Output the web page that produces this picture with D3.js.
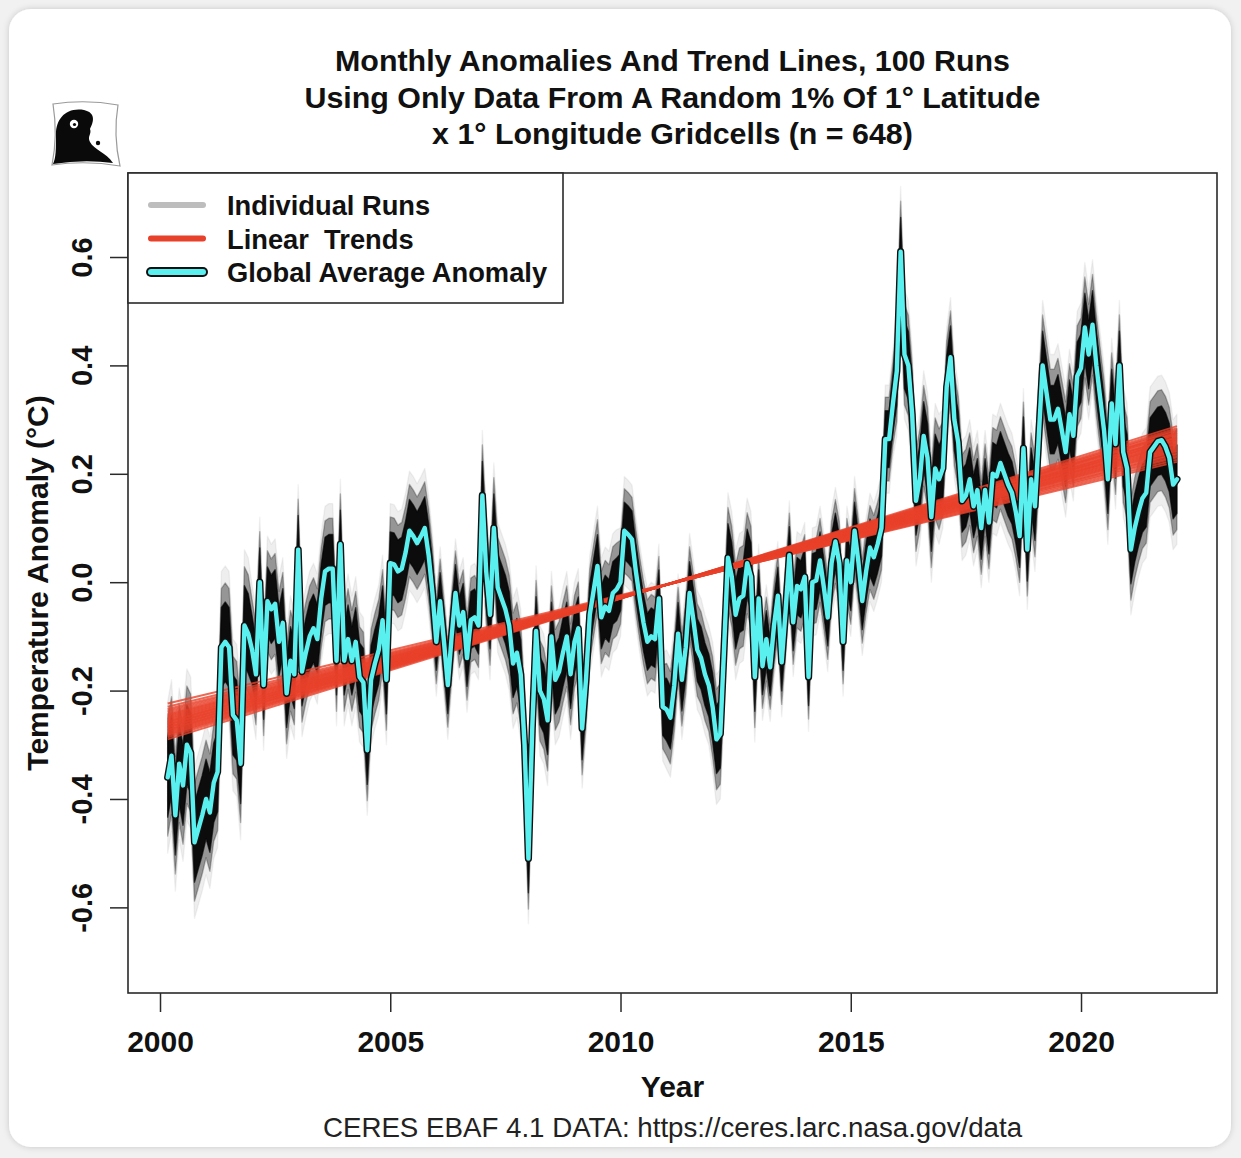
<!DOCTYPE html>
<html>
<head>
<meta charset="utf-8">
<script src="https://cdn.jsdelivr.net/npm/d3@7"></script>
<style>
  html, body { margin: 0; padding: 0; background: #f1f1f1; }
  svg { display: block; }
  text { font-family: "Liberation Sans", Arial, Helvetica, sans-serif; }
</style>
</head>
<body>
<svg id="chart" width="1241" height="1158"></svg>
<script>
// ---- data -------------------------------------------------------------
// monthly global average anomaly (°C), March 2000 .. February 2022
const startYear = 2000;
const startMonth = 3;
const anomaly = [
  // 2000 (Mar-Dec)
  -0.36, -0.32, -0.43, -0.335, -0.375, -0.30, -0.315, -0.48, -0.455, -0.43,
  // 2001
  -0.40, -0.425, -0.37, -0.35, -0.12, -0.11, -0.12, -0.245, -0.255, -0.335, -0.08, -0.095,
  // 2002
  -0.125, -0.17, 0.00, -0.19, -0.035, -0.05, -0.04, -0.11, -0.075, -0.205, -0.145, -0.17,
  // 2003
  0.06, -0.165, -0.13, -0.10, -0.085, -0.105, -0.03, 0.02, 0.025, 0.025, -0.145, 0.07,
  // 2004
  -0.145, -0.105, -0.145, -0.11, -0.175, -0.185, -0.31, -0.18, -0.15, -0.125, -0.07, -0.18,
  // 2005
  0.035, 0.033, 0.02, 0.025, 0.055, 0.095, 0.085, 0.072, 0.085, 0.10, 0.05, -0.02,
  // 2006
  -0.11, -0.035, -0.11, -0.19, -0.10, -0.02, -0.08, -0.055, -0.14, -0.07, -0.065, -0.08,
  // 2007
  0.16, 0.02, -0.06, 0.10, -0.01, -0.03, -0.05, -0.08, -0.15, -0.13, -0.17, -0.30,
  // 2008
  -0.51, -0.27, -0.09, -0.20, -0.215, -0.255, -0.10, -0.18, -0.165, -0.13, -0.10, -0.17,
  // 2009
  -0.11, -0.085, -0.27, -0.18, -0.06, -0.015, 0.03, -0.065, -0.045, -0.053, -0.02, -0.013,
  // 2010
  0.0, 0.095, 0.088, 0.079, 0.02, -0.03, -0.075, -0.11, -0.10, -0.105, -0.03, -0.23,
  // 2011
  -0.235, -0.25, -0.19, -0.095, -0.18, -0.12, -0.02, -0.07, -0.125, -0.14, -0.17, -0.19,
  // 2012
  -0.23, -0.29, -0.28, -0.12, 0.045, 0.01, -0.06, -0.03, -0.025, 0.035, 0.01, -0.175,
  // 2013
  -0.03, -0.155, -0.105, -0.157, -0.08, -0.025, -0.148, -0.055, 0.05, -0.074, -0.007, -0.013,
  // 2014
  0.01, -0.175, 0.0, 0.003, 0.04, -0.01, -0.065, 0.035, 0.075, 0.035, -0.11, 0.04,
  // 2015
  0.0, 0.095, 0.037, -0.035, 0.02, 0.064, 0.046, 0.07, 0.10, 0.264, 0.264, 0.33,
  // 2016
  0.39, 0.61, 0.42, 0.40, 0.31, 0.15, 0.19, 0.27, 0.23, 0.12, 0.21, 0.19,
  // 2017
  0.21, 0.36, 0.415, 0.30, 0.258, 0.15, 0.16, 0.19, 0.14, 0.17, 0.10, 0.17,
  // 2018
  0.11, 0.20, 0.195, 0.22, 0.20, 0.18, 0.165, 0.13, 0.085, 0.247, 0.06, 0.19,
  // 2019
  0.14, 0.27, 0.40, 0.35, 0.30, 0.30, 0.32, 0.28, 0.24, 0.31, 0.27, 0.38,
  // 2020
  0.395, 0.47, 0.42, 0.475, 0.40, 0.34, 0.28, 0.19, 0.33, 0.255, 0.40, 0.24,
  // 2021
  0.21, 0.06, 0.10, 0.13, 0.155, 0.165, 0.24, 0.25, 0.26, 0.262, 0.25, 0.23,
  // 2022 (Jan-Feb)
  0.18, 0.19
];

// half-width (°C) of the spread of the individual runs, by year 2000..2022
const runSpread = [
  0.070, 0.070, 0.060, 0.060, 0.060, 0.055, 0.050, 0.060, 0.060, 0.055, 0.050, 0.055,
  0.060, 0.050, 0.050, 0.050, 0.060, 0.055, 0.055, 0.060, 0.060, 0.060, 0.060
];

// fitted trend of each run: value at the first and at the last month (°C)
const trendStart = [
  -0.290, -0.286, -0.283, -0.281, -0.279, -0.277, -0.275, -0.273, -0.272, -0.270,
  -0.268, -0.267, -0.265, -0.263, -0.262, -0.260, -0.258, -0.257, -0.255, -0.253,
  -0.251, -0.249, -0.247, -0.245, -0.243, -0.240, -0.237, -0.234, -0.230, -0.224
];
const trendEnd = [
  0.288, 0.284, 0.281, 0.279, 0.276, 0.275, 0.273, 0.271, 0.268, 0.267,
  0.265, 0.263, 0.262, 0.260, 0.258, 0.256, 0.255, 0.253, 0.251, 0.249,
  0.247, 0.245, 0.243, 0.241, 0.238, 0.236, 0.233, 0.230, 0.226, 0.222
];

const xTicks = [2000, 2005, 2010, 2015, 2020];
const yTicks = [-0.6, -0.4, -0.2, 0.0, 0.2, 0.4, 0.6];

const titleLines = [
  "Monthly Anomalies And Trend Lines, 100 Runs",
  "Using Only Data From A Random 1% Of 1° Latitude",
  "x 1° Longitude Gridcells (n = 648)"
];
const legendLabels = ["Individual Runs", "Linear  Trends", "Global Average Anomaly"];
const xLabel = "Year";
const yLabel = "Temperature Anomaly (°C)";
const sourceNote = "CERES EBAF 4.1 DATA: https://ceres.larc.nasa.gov/data";

// ---- layout -----------------------------------------------------------
const plot = { left: 128, top: 173, right: 1217, bottom: 993 };
const COLORS = { cyan: "#5af0f0", red: "#e8412b", grey: "#bdbdbd", frame: "#2a2a2a" };

const svg = d3.select("#chart");

// rounded card behind everything
const defs = svg.append("defs");
const shadow = defs.append("filter").attr("id", "cardShadow")
  .attr("x", "-5%").attr("y", "-5%").attr("width", "110%").attr("height", "110%");
shadow.append("feDropShadow").attr("dx", 0).attr("dy", 0)
  .attr("stdDeviation", 3).attr("flood-color", "#000").attr("flood-opacity", 0.18);
svg.append("rect").attr("x", 9).attr("y", 9).attr("width", 1222).attr("height", 1138)
  .attr("rx", 22).attr("fill", "#fff").attr("filter", "url(#cardShadow)");

defs.append("clipPath").attr("id", "plotClip").append("rect")
  .attr("x", plot.left).attr("y", plot.top)
  .attr("width", plot.right - plot.left).attr("height", plot.bottom - plot.top);

// ---- scales -----------------------------------------------------------
const x = d3.scaleLinear().domain([1999.305, 2022.953]).range([plot.left, plot.right]);
const y = d3.scaleLinear().domain([-0.758, 0.755]).range([plot.bottom, plot.top]);

const series = anomaly.map((v, i) => {
  const t = startYear + (startMonth - 1 + i) / 12;
  return { t, v, s: runSpread[Math.floor(t) - startYear] };
});
const tFirst = series[0].t, tLast = series[series.length - 1].t;

const gData = svg.append("g").attr("clip-path", "url(#plotClip)");

// individual runs: spread around the average, dense black core, faint fringe
const runLayers = [
  { k: 2.0, color: "#555", opacity: 0.10 },
  { k: 1.55, color: "#111", opacity: 0.40 },
  { k: 1.05, color: "#000", opacity: 0.92 }
];
runLayers.forEach(layer => {
  const area = d3.area()
    .x(d => x(d.t))
    .y0(d => y(d.v - layer.k * d.s))
    .y1(d => y(d.v + layer.k * d.s));
  gData.append("path").datum(series)
    .attr("d", area)
    .attr("fill", layer.color).attr("fill-opacity", layer.opacity)
    .attr("stroke", layer.color).attr("stroke-opacity", layer.opacity * 0.7)
    .attr("stroke-width", 1.4).attr("stroke-linejoin", "round");
});

// linear trends of the runs
const trendLine = d3.line().x(d => x(d[0])).y(d => y(d[1]));
trendStart.forEach((s0, i) => {
  gData.append("path")
    .datum([[tFirst, s0], [tLast, trendEnd[i]]])
    .attr("d", trendLine)
    .attr("fill", "none").attr("stroke", COLORS.red)
    .attr("stroke-width", 2).attr("stroke-opacity", 0.8);
});

// global average anomaly: cyan line with a dark outline
const avgLine = d3.line().x(d => x(d.t)).y(d => y(d.v));
gData.append("path").datum(series).attr("d", avgLine)
  .attr("fill", "none").attr("stroke", "#111").attr("stroke-width", 7.2)
  .attr("stroke-linejoin", "round").attr("stroke-linecap", "round");
gData.append("path").datum(series).attr("d", avgLine)
  .attr("fill", "none").attr("stroke", COLORS.cyan).attr("stroke-width", 4.4)
  .attr("stroke-linejoin", "round").attr("stroke-linecap", "round");

// ---- axes ---------------------------------------------------------------
const xAxis = d3.axisBottom(x).tickValues(xTicks).tickFormat(d3.format("d"))
  .tickSize(19).tickPadding(19);
const gx = svg.append("g").attr("transform", `translate(0,${plot.bottom})`).call(xAxis);
gx.select(".domain").remove();
gx.selectAll(".tick line").attr("stroke", COLORS.frame).attr("stroke-width", 1.5);
gx.selectAll(".tick text").attr("fill", "#111")
  .style("font-size", "30px").style("font-weight", "bold");

const yAxis = d3.axisLeft(y).tickValues(yTicks).tickFormat(d => d.toFixed(1)).tickSize(18);
const gy = svg.append("g").attr("transform", `translate(${plot.left},0)`).call(yAxis);
gy.select(".domain").remove();
gy.selectAll(".tick line").attr("stroke", COLORS.frame).attr("stroke-width", 1.5);
gy.selectAll(".tick text")
  .attr("x", 0).attr("dy", 0)
  .attr("transform", "translate(-36,0) rotate(-90)")
  .attr("text-anchor", "middle").attr("fill", "#111")
  .style("font-size", "29px").style("font-weight", "bold");

// plot frame
svg.append("rect").attr("x", plot.left).attr("y", plot.top)
  .attr("width", plot.right - plot.left).attr("height", plot.bottom - plot.top)
  .attr("fill", "none").attr("stroke", COLORS.frame).attr("stroke-width", 1.6);

// axis titles and note
svg.append("text").attr("x", (plot.left + plot.right) / 2).attr("y", 1097)
  .attr("text-anchor", "middle").attr("fill", "#111")
  .style("font-size", "30px").style("font-weight", "bold").text(xLabel);
svg.append("text").attr("transform", `translate(48,${(plot.top + plot.bottom) / 2}) rotate(-90)`)
  .attr("text-anchor", "middle").attr("fill", "#111")
  .style("font-size", "30px").style("font-weight", "bold").text(yLabel);
svg.append("text").attr("x", (plot.left + plot.right) / 2).attr("y", 1137)
  .attr("text-anchor", "middle").attr("fill", "#222")
  .style("font-size", "27.7px").text(sourceNote);

// title
svg.append("g").selectAll("text").data(titleLines).join("text")
  .attr("x", (plot.left + plot.right) / 2)
  .attr("y", (d, i) => 71 + i * 36.5)
  .attr("text-anchor", "middle").attr("fill", "#111")
  .style("font-size", "30.4px").style("font-weight", "bold")
  .text(d => d);

// ---- legend ----------------------------------------------------------------
const lg = svg.append("g");
lg.append("rect").attr("x", plot.left).attr("y", plot.top)
  .attr("width", 435).attr("height", 130)
  .attr("fill", "#fff").attr("stroke", COLORS.frame).attr("stroke-width", 1.6);
const rowY = [205, 238.5, 272];
const sx0 = 151, sx1 = 203;
lg.append("line").attr("x1", sx0).attr("x2", sx1).attr("y1", rowY[0]).attr("y2", rowY[0])
  .attr("stroke", COLORS.grey).attr("stroke-width", 6).attr("stroke-linecap", "round");
lg.append("line").attr("x1", sx0).attr("x2", sx1).attr("y1", rowY[1]).attr("y2", rowY[1])
  .attr("stroke", COLORS.red).attr("stroke-width", 6).attr("stroke-linecap", "round");
lg.append("line").attr("x1", sx0).attr("x2", sx1).attr("y1", rowY[2]).attr("y2", rowY[2])
  .attr("stroke", "#111").attr("stroke-width", 10).attr("stroke-linecap", "round");
lg.append("line").attr("x1", sx0).attr("x2", sx1).attr("y1", rowY[2]).attr("y2", rowY[2])
  .attr("stroke", COLORS.cyan).attr("stroke-width", 6).attr("stroke-linecap", "round");
lg.selectAll("text.lab").data(legendLabels).join("text").attr("class", "lab")
  .attr("x", 227).attr("y", (d, i) => rowY[i] + 10)
  .attr("fill", "#111").style("white-space", "pre")
  .style("font-size", "27.3px").style("font-weight", "bold")
  .text(d => d);

// ---- small emblem, upper left ------------------------------------------------
const logo = svg.append("g");
logo.append("path")
  .attr("d", "M53,104 Q86,99 118,105 Q113,135 120,166 Q86,160 52,165 Q58,135 53,104 Z")
  .attr("fill", "#fff").attr("stroke", "#9a9a9a").attr("stroke-width", 1.2);
logo.append("path")
  .attr("d", "M84,110 C66,107 56,119 56,134 C56,149 56,158 53,164 Q84,159 113,163 " +
             "C106,152 94,150 90,142 C87,136 92,134 90,129 C93,123 97,113 84,110 Z")
  .attr("fill", "#0a0a0a");
logo.append("circle").attr("cx", 74).attr("cy", 124).attr("r", 4.2).attr("fill", "#fff");
logo.append("circle").attr("cx", 74.5).attr("cy", 124.5).attr("r", 1.6).attr("fill", "#0a0a0a");
logo.append("circle").attr("cx", 98).attr("cy", 143).attr("r", 2.2).attr("fill", "#0a0a0a");
</script>
</body>
</html>
